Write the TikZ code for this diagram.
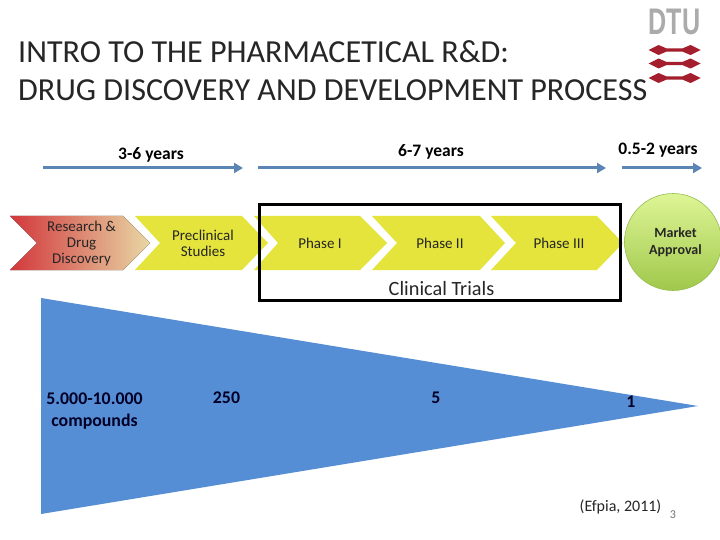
\documentclass[tikz,border=0pt]{standalone}
\usepackage{fontspec}
\setmainfont{Carlito}
\newfontfamily\logofont{Liberation Sans}
\usetikzlibrary{arrows.meta}
\definecolor{chev}{HTML}{E4E43C}
\definecolor{arrowblue}{HTML}{5B85B4}
\definecolor{tri}{HTML}{558ED5}
\definecolor{logored}{HTML}{A51E2D}
\definecolor{logogrey}{HTML}{ABABAB}
\definecolor{rdleft}{RGB}{210,55,60}
\definecolor{rdmid}{RGB}{222,135,100}
\definecolor{rdright}{RGB}{232,215,165}
\definecolor{mktop}{RGB}{222,245,150}
\definecolor{mkbottom}{RGB}{160,200,75}
\definecolor{mkline}{RGB}{150,190,80}
\tikzset{
  chevron/.style={fill=chev,draw=none},
  span/.style={draw=arrowblue,line width=3pt,-{Triangle[length=9pt,width=10pt]}},
  years/.style={font=\fontsize{17.5}{20}\selectfont\bfseries,text=black,anchor=center,inner sep=0pt},
  steplabel/.style={font=\fontsize{15}{16}\selectfont,align=center,text=black!85,inner sep=0pt},
  count/.style={font=\fontsize{17.8}{22}\selectfont\bfseries,align=center,text=black!85!blue,inner sep=0pt},
  titletext/.style={font=\fontsize{32.1}{38}\selectfont,anchor=west,inner sep=0pt,text=black!85},
  logobar/.pic={
    \fill[logored] (-26,0) -- (-16,-5) -- (-8,-1.6) -- (8,-1.6) -- (16,-5) -- (26,0) -- (16,5) -- (8,1.6) -- (-8,1.6) -- (-16,5) -- cycle;
  }
}
\begin{document}
\begin{tikzpicture}[x=1pt,y=-1pt]
\useasboundingbox (0,0) rectangle (720,540);
\fill[white] (0,0) rectangle (720,540);

% title
\node[titletext] (t1) at (18,52) {INTRO TO THE PHARMACETICAL R\&D:};
\node[titletext] (t2) at (18,90) {DRUG DISCOVERY AND DEVELOPMENT PROCESS};

% logo
\node[inner sep=0pt,text=logogrey,font=\fontsize{37}{37}\selectfont\bfseries\logofont,xscale=0.68] (dtu) at (674.5,22) {DTU};
\pic at (674.5,50) {logobar};
\pic at (674.5,63.5) {logobar};
\pic at (674.5,78) {logobar};

% duration arrows
\coordinate (a1s) at (43,168);
\coordinate (a1e) at (243,168);
\coordinate (a2s) at (258,168);
\coordinate (a2e) at (606,168);
\coordinate (a3s) at (622,168);
\coordinate (a3e) at (702,168);
\draw[span] (a1s) -- (a1e);
\draw[span] (a2s) -- (a2e);
\draw[span] (a3s) -- (a3e);
\node[years] (y1) at (151,155) {3-6 years};
\node[years] (y2) at (431,152) {6-7 years};
\node[years] (y3) at (658,150) {0.5-2 years};

% chevrons
\fill[left color=rdleft,middle color=rdmid,right color=rdright]
  (10,216) -- (123,216) -- (150,243) -- (123,270) -- (10,270) -- (37,243) -- cycle;
\fill[chevron] (135,216) -- (242,216) -- (268,243) -- (242,270) -- (135,270) -- (160,243) -- cycle;
\fill[chevron] (254,216) -- (360,216) -- (387,243) -- (360,270) -- (254,270) -- (278,243) -- cycle;
\fill[chevron] (372,216) -- (480,216) -- (505,243) -- (480,270) -- (372,270) -- (397,243) -- cycle;
\fill[chevron] (491,216) -- (597,216) -- (623,243) -- (597,270) -- (491,270) -- (516,243) -- cycle;

\node[steplabel] (rd) at (81.5,243.5) {Research \&\\Drug\\Discovery};
\node[steplabel] (pre) at (203,243) {Preclinical\\Studies};
\node[steplabel] (p1) at (320,243) {Phase I};
\node[steplabel] (p2) at (440,243) {Phase II};
\node[steplabel] (p3) at (559,243) {Phase III};

% clinical trials box
\node[draw=black,line width=3pt,minimum width=361pt,minimum height=96pt,inner sep=0pt] (box) at (440,252.5) {};
\node[font=\fontsize{20.3}{22}\selectfont,text=black!85,inner sep=0pt] (ct) at (441.5,288.5) {Clinical Trials};

% market approval
\shade[top color=mktop,bottom color=mkbottom,draw=mkline,line width=0.6pt]
  (673,242) circle[radius=48.5];
\node[font=\fontsize{14}{17}\selectfont\bfseries,align=center,text=black!85,inner sep=0pt] (ma) at (675.5,242.5) {Market\\Approval};

% funnel
\fill[tri] (41,298) -- (698,406) -- (41,514) -- cycle;
\node[count] (c1) at (94.5,411) {5.000-10.000\\compounds};
\node[count] (c2) at (226.5,398) {250};
\node[count] (c3) at (436,398) {5};
\node[count] (c4) at (631,402) {1};

% source and page
\node[font=\fontsize{16}{18}\selectfont,text=black!85,inner sep=0pt] (src) at (620.5,506.5) {(Efpia, 2011)};
\node[font=\fontsize{12}{14}\selectfont,text=black!55,inner sep=0pt] (pg) at (673,515) {3};
\end{tikzpicture}
\end{document}
